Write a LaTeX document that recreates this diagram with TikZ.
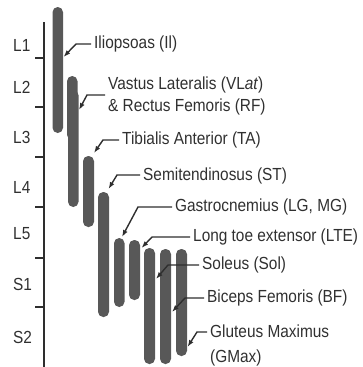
\documentclass[tikz,border=0pt]{standalone}
\usepackage{fontspec}
\setmainfont{Liberation Sans}[FakeStretch=0.88]
\usetikzlibrary{arrows.meta,calc}
\definecolor{barc}{HTML}{585858}
\definecolor{txtc}{HTML}{303030}
\definecolor{linec}{HTML}{2E2E2E}
\tikzset{
  bar/.style={fill=barc, draw=none, rounded corners=5.2pt},
  lab/.style={anchor=west, inner sep=3pt, text=txtc, font=\fontsize{17.5}{22.5}\selectfont, align=left},
  seg/.style={anchor=west, inner sep=0pt, text=txtc, font=\fontsize{17.5}{20}\selectfont},
  leader/.style={draw=linec, line width=1.4pt, -{Latex[length=7pt,width=5pt]}},
  axisline/.style={draw=linec, line width=2pt},
  tickline/.style={draw=linec, line width=2.4pt}
}
\begin{document}
\begin{tikzpicture}[x=1pt,y=-1pt]
\useasboundingbox (0,0) rectangle (362,367);
% axis
\coordinate (axtop) at (44,22);
\coordinate (axbot) at (44,367);
\draw[axisline] (axtop) -- (axbot);
\foreach \y in {58,107,157,207,258,307}{
  \draw[tickline] (35,\y) -- (44.5,\y);
}
% segment labels
\node[seg] (l1) at (13,45) {L1};
\node[seg] (l2) at (13,87) {L2};
\node[seg] (l3) at (13,137) {L3};
\node[seg] (l4) at (13,187) {L4};
\node[seg] (l5) at (13,234) {L5};
\node[seg] (s1) at (13,284) {S1};
\node[seg] (s2) at (13,337) {S2};
% bars
\path[bar] (52.5,7) rectangle (63,133);
\path[bar] (67,76) rectangle (77.5,140);
\path[bar] (68,90) rectangle (78.5,207);
\path[bar] (83,156) rectangle (94,227);
\path[bar] (98,192) rectangle (109,317);
\path[bar] (114,238) rectangle (124.5,307);
\path[bar] (129,240) rectangle (140,300);
\path[bar] (144,248) rectangle (155,364);
\path[bar] (160,249) rectangle (171,364);
\path[bar] (176,249) rectangle (187,356);
% labels
\node[lab] (il) at (91,44) {Iliopsoas (Il)};
\node[lab] (vl) at (105,96) {Vastus Lateralis (VL\textit{at})\\\& Rectus Femoris (RF)};
\node[lab] (ta) at (119,140) {Tibialis Anterior (TA)};
\node[lab] (st) at (140,176) {Semitendinosus (ST)};
\node[lab] (gas) at (172,207) {Gastrocnemius (LG, MG)};
\node[lab] (lte) at (190,237) {Long toe extensor (LTE)};
\node[lab] (sol) at (199,265) {Soleus (Sol)};
\node[lab] (bf) at (204,298) {Biceps Femoris (BF)};
\node[lab, font=\fontsize{17.5}{25}\selectfont] (gm) at (207,345) {Gluteus Maximus\\(GMax)};
% tips
\coordinate (tIl) at (63.5,57);
\coordinate (tVl) at (79,110);
\coordinate (tTa) at (94,153);
\coordinate (tSt) at (108.5,189);
\coordinate (tGas) at (122,237);
\coordinate (tLte) at (141.5,248);
\coordinate (tSol) at (156,279);
\coordinate (tBf) at (172,312);
\coordinate (tGm) at (187.5,347);
% leaders
\draw[leader] (il.west) -- ++(-15,0) -- (tIl);
\draw[leader] ($(vl.west)+(0,-1)$) -- ++(-18,0) -- (tVl);
\draw[leader] (ta.west) -- ++(-16,0) -- (tTa);
\draw[leader] ($(st.west)+(0,-1)$) -- ++(-23,0) -- (tSt);
\draw[leader] (gas.west) -- ++(-34,0) -- (tGas);
\draw[leader] (lte.west) -- ++(-38,0) -- (tLte);
\draw[leader] (sol.west) -- ++(-31,0) -- (tSol);
\draw[leader] (bf.west) -- ++(-19,0) -- (tBf);
\draw[leader] ($(gm.west)+(0,-13)$) -- ++(-10,0) -- (tGm);
\end{tikzpicture}
\end{document}
